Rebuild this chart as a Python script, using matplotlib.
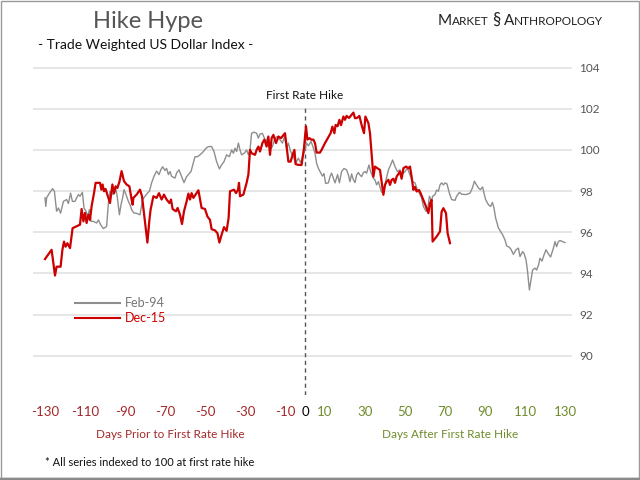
import matplotlib
matplotlib.use("Agg")
import matplotlib.pyplot as plt
from matplotlib.lines import Line2D
from matplotlib.patches import Rectangle

plt.rcParams['font.family'] = ['Lato', 'DejaVu Sans']

# Feb-94 cycle (days relative to first hike, index = 100 at hike)
feb94_days = [-130, -129.6, -129.2, -127.8, -126.2, -125.3, -124.2, -123.3, -122.2, -120.8,
              -119.2, -118.3, -117.2, -116.3, -115, -114.2, -113.3, -112.5, -111.3, -110.5,
              -109.5, -108.7, -107.8, -107, -105.8, -104.2, -103.3, -102.2, -100.8, -99.2,
              -98.3, -97.5, -95.8, -94.5, -93.8, -92.8, -92, -91.2, -90.5, -89.5,
              -88.3, -87.5, -86.7, -85.5, -84.5, -83.8, -82.5, -81.2, -80, -78.8,
              -77.8, -76.7, -75.5, -74.2, -73, -72, -71.2, -70, -69.2, -68.3,
              -67.5, -66.7, -65, -64.2, -63, -61.7, -60.5, -59.2, -58.3, -57,
              -55, -53.8, -52.5, -50.8, -49.5, -48.3, -46.7, -45.5, -44.2, -42.8,
              -41.7, -40.5, -39.2, -37.8, -36.7, -35.8, -35, -34.2, -33.3, -32.5,
              -31.7, -30.3, -29.2, -28.3, -27.5, -26.7, -25.5, -24.2, -23.3, -22.5,
              -21.3, -20.3, -19.5, -18.7, -17.5, -16.3, -15, -13.8, -12.5, -11.3,
              -10.2, -9.2, -8.3, -7.2, -5.8, -4.7, -3.3, -2.2, -1.2, 0,
              0.8, 1.7, 3, 3.8, 5, 5.8, 6.7, 7.8, 8.7, 9.5,
              10.3, 11.7, 12.5, 13.3, 14.2, 15, 16.3, 17.2, 18.3, 19.5,
              20.8, 21.7, 22.5, 23.3, 24.2, 25, 25.8, 26.7, 27.5, 28.3,
              29.2, 30, 30.8, 32, 32.8, 34.2, 35, 35.8, 36.7, 37.5,
              38.3, 39.5, 40.5, 41.7, 42.8, 43.8, 45, 46.2, 47.5, 48.3,
              50, 51.2, 52.5, 53.8, 55, 56.2, 57.2, 58.3, 59.2, 60.5,
              61.3, 62.2, 63.3, 63.8, 65, 65.8, 66.7, 67.5, 68.3, 69.2,
              70, 71, 72.2, 73.3, 75, 75.8, 77.2, 78.3, 80.5, 82.5,
              83.7, 84.7, 85.8, 86.7, 87.7, 88.8, 89.5, 90.3, 91.7, 92.8,
              93.7, 94.5, 95.3, 96.7, 97.8, 98.8, 100, 100.8, 102.2, 103,
              104.2, 105.5, 106.7, 107.5, 108.8, 109.5, 110.5, 111.2, 112.2, 113,
              113.8, 115, 115.8, 116.8, 117.5, 118.5, 119.5, 120.5, 121.7, 122.8,
              124.2, 125, 125.8, 126.7, 127.5, 128.8, 130]
feb94_vals = [97.67, 97.26, 97.67, 97.9, 98.12, 97.99, 97.02, 97.18, 96.93, 97.5,
              97.59, 97.4, 97.9, 97.5, 97.5, 97.67, 97.83, 97.75, 97.94, 97.18,
              97.02, 96.77, 97.1, 96.53, 96.53, 96.45, 96.6, 96.37, 96.18, 96.28,
              97.42, 97.99, 97.83, 98.07, 97.67, 96.85, 97.34, 97.67, 98.07, 97.83,
              97.5, 97.34, 97.1, 96.93, 96.93, 96.9, 96.85, 97.59, 97.75, 97.9,
              97.99, 98.4, 98.72, 98.97, 98.8, 99.05, 99.18, 99.0, 99.1, 98.8,
              98.95, 98.72, 98.63, 98.88, 99.03, 98.7, 98.41, 98.7, 98.8, 98.95,
              99.67, 99.67, 99.76, 99.92, 100.08, 100.16, 100.16, 99.92, 99.43, 99.08,
              99.27, 99.43, 99.76, 99.67, 100.0, 99.84, 100.08, 99.92, 100.33, 100.0,
              99.76, 99.84, 100.0, 99.76, 100.0, 100.81, 100.86, 100.81, 100.57, 100.77,
              100.8, 100.57, 100.33, 100.6, 100.0, 100.16, 100.57, 100.65, 100.49, 100.33,
              100.65, 100.08, 100.33, 99.92, 99.67, 99.35, 99.6, 99.38, 99.67, 100.0,
              100.33, 100.2, 100.41, 100.2, 99.84, 99.35, 99.1, 98.9, 98.73, 98.85,
              98.37, 98.4, 98.7, 98.87, 98.62, 98.4, 98.8, 98.4, 98.95, 99.1,
              99.03, 98.78, 98.46, 98.83, 98.55, 98.41, 98.78, 98.9, 98.78, 98.7,
              98.9, 98.95, 98.87, 99.27, 98.95, 98.62, 98.54, 98.3, 98.46, 98.2,
              97.94, 98.05, 98.54, 99.03, 99.27, 99.51, 99.19, 98.95, 99.03, 98.78,
              98.95, 99.11, 98.78, 98.46, 98.4, 98.06, 97.9, 97.67, 97.25, 97.02,
              97.1, 97.75, 97.5, 97.75, 97.83, 98.05, 97.99, 98.3, 98.4, 98.3,
              98.4, 98.35, 97.9, 97.59, 97.55, 97.75, 97.94, 97.85, 97.83, 97.9,
              98.15, 98.48, 98.3, 98.15, 98.07, 98.2, 97.9, 97.59, 97.34, 97.25,
              97.45, 97.18, 96.7, 96.21, 96.04, 95.88, 95.63, 95.34, 95.27, 95.17,
              94.93, 95.15, 95.23, 94.82, 95.06, 94.98, 94.66, 94.17, 93.2, 93.68,
              94.17, 94.26, 94.17, 94.42, 94.74, 94.6, 94.9, 95.15, 94.95, 94.8,
              95.23, 95.55, 95.3, 95.55, 95.6, 95.55, 95.5]

# Dec-15 cycle
dec15_days = [-130, -126.7, -125, -124.2, -122.2, -121.3, -120.5, -119.7, -118.8, -117.5,
              -116.2, -112.5, -111.7, -110.8, -110, -109.2, -108.3, -107.5, -106.7, -105.5,
              -104.7, -102.5, -101.8, -101.2, -100.5, -99.7, -98.3, -97.5, -96.3, -95.5,
              -94.7, -93.8, -92.8, -91.7, -90.5, -89.2, -87.8, -86.7, -86.2, -85.8,
              -84.2, -82.5, -81.5, -80.3, -78.8, -77.8, -77.2, -75.8, -74.2, -73,
              -71.7, -70.5, -69.2, -67.8, -67, -66.2, -64.5, -63.7, -62.5, -61.5,
              -60.5, -59.2, -58.3, -57.5, -56.7, -55.8, -54.7, -53.3, -51.7, -50,
              -48.8, -47.5, -46.7, -45, -43.8, -42.8, -41.7, -40.5, -39.2, -38.2,
              -37.5, -35.5, -34.5, -33.5, -33, -32.5, -30.8, -29.2, -28.3, -27.5,
              -26.7, -25, -24.2, -23.3, -22.5, -21.3, -20.3, -19.2, -18.3, -17.5,
              -16.7, -15.8, -14.5, -13.3, -12, -10, -9.2, -8.3, -7.2, -6.2,
              -5.3, -4.7, -3.3, -1.7, -0.5, 0.5, 1.2, 2.2, 3.3, 4.2,
              5, 5.8, 7.5, 8.3, 10, 11.7, 12.8, 13.7, 14.7, 15.3,
              16.3, 17.2, 18, 19.2, 20, 20.8, 22, 23.3, 24.2, 25,
              26, 27.2, 28.3, 29.5, 30.2, 31.7, 32.5, 33.3, 34.2, 35,
              36.3, 37.5, 38.2, 39.2, 40, 40.8, 41.7, 42.5, 43.3, 44.2,
              45, 45.8, 47.5, 48.3, 49.2, 50.5, 51.7, 52.5, 53.3, 54.2,
              55, 55.8, 57, 57.8, 59.2, 60.5, 61.7, 62.5, 63.3, 63.8,
              65.8, 67.5, 68.3, 69.2, 70.5, 71.3, 72.5]
dec15_vals = [94.7, 95.15, 93.9, 94.33, 94.33, 95.15, 95.55, 95.3, 95.47, 95.23,
              96.2, 96.37, 97.13, 96.53, 96.94, 96.45, 96.85, 96.6, 97.26, 97.9,
              98.4, 98.4, 98.07, 98.32, 97.99, 98.1, 97.67, 97.42, 98.32, 97.9,
              98.23, 98.15, 98.45, 98.97, 98.48, 98.32, 98.23, 97.59, 97.34, 97.67,
              97.83, 98.07, 97.75, 96.77, 95.5, 96.6, 97.1, 97.75, 97.67, 97.9,
              97.59, 97.83, 97.59, 97.42, 97.59, 97.13, 97.02, 97.18, 96.85, 96.4,
              97.02, 97.5, 97.88, 97.59, 97.9, 97.67, 97.83, 98.04, 97.18, 97.13,
              96.77, 96.6, 96.15, 96.09, 95.96, 95.5, 95.88, 96.25, 96.07, 96.69,
              97.99, 98.07, 97.9, 98.07, 98.4, 97.75, 97.83, 98.4, 98.8, 100.0,
              99.84, 99.76, 100.0, 100.16, 99.92, 100.33, 100.5, 100.16, 100.65, 99.76,
              100.57, 100.73, 100.33, 100.65, 100.57, 100.81, 100.16, 99.43, 99.43, 99.76,
              100.0, 99.31, 99.27, 99.27, 100.1, 101.15, 100.5, 100.57, 100.49, 100.5,
              100.33, 99.87, 99.87, 100.0, 100.33, 100.62, 100.81, 101.13, 100.81, 101.21,
              101.15, 101.46, 101.2, 101.62, 101.46, 101.65, 101.55, 101.7, 101.81, 101.54,
              101.55, 101.65, 101.21, 100.81, 101.62, 101.3, 100.81, 99.84, 98.7, 99.19,
              99.1, 99.03, 98.54, 97.82, 98.3, 98.46, 98.55, 98.3, 98.54, 98.6,
              98.4, 98.7, 98.95, 98.6, 99.11, 99.19, 99.11, 99.19, 98.7, 98.06,
              98.2, 97.98, 98.05, 97.9, 97.57, 97.25, 96.93, 97.41, 97.57, 95.55,
              95.79, 96.04, 97.0, 97.17, 96.93, 95.96, 95.47]

x_ticks = [-130, -110, -90, -70, -50, -30, -10, 0, 10, 30, 50, 70, 90, 110, 130]
y_ticks = [90, 92, 94, 96, 98, 100, 102, 104]

RED_TXT = '#a3282a'
GREEN_TXT = '#6f8c2d'

W, H = 640, 480
fig = plt.figure(figsize=(6.4, 4.8), dpi=100)
fig.patch.set_facecolor('white')


def fx(px):
    return px / W


def fy(py):
    return 1 - py / H


ax = fig.add_axes([fx(33), fy(395), fx(572) - fx(33), fy(64) - fy(395)])
ax.set_xlim(-136, 133.5)
ax.set_ylim(88.1, 104.17)

for yv in y_ticks:
    ax.axhline(yv, color='#e6e6e6', lw=1.4, zorder=0)

ax.plot(feb94_days, feb94_vals, color='#8e8e8e', lw=1.0, label='Feb-94', zorder=2)
ax.plot(dec15_days, dec15_vals, color='#cc0000', lw=1.6, label='Dec-15', zorder=3)

# first hike marker
ax.plot([0, 0], [88.1, 102.2], color='#555555', lw=1.0, ls=(0, (3, 2.5)), zorder=1)
ax.text(0, 102.35, 'First Rate Hike', ha='center', va='bottom', fontsize=8.5, color='#111111')

for s in ax.spines.values():
    s.set_visible(False)

ax.yaxis.tick_right()
ax.set_yticks(y_ticks)
ax.tick_params(axis='y', length=0, pad=5, labelsize=8.5, labelcolor='#555555')
ax.set_xticks(x_ticks)
ax.set_xticklabels([str(t) for t in x_ticks])
ax.tick_params(axis='x', length=0, pad=8, labelsize=9.5)
for lbl, t in zip(ax.get_xticklabels(), x_ticks):
    if t < 0:
        lbl.set_color(RED_TXT)
    elif t == 0:
        lbl.set_color('black')
    else:
        lbl.set_color(GREEN_TXT)

legend_lines = [Line2D([], [], color='#8e8e8e', lw=1.5), Line2D([], [], color='#cc0000', lw=1.5)]
leg = ax.legend(legend_lines, ['Feb-94', 'Dec-15'], loc='upper left',
                bbox_to_anchor=(fx(64), fy(286)), bbox_transform=fig.transFigure,
                frameon=False, handlelength=3.6, handletextpad=0.4, labelspacing=0.25,
                fontsize=9)
leg.get_texts()[0].set_color('#777777')
leg.get_texts()[1].set_color('#cc0000')

fig.text(fx(170), fy(435), 'Days Prior to First Rate Hike', ha='center', va='center',
         fontsize=8.5, color=RED_TXT)
fig.text(fx(450), fy(435), 'Days After First Rate Hike', ha='center', va='center',
         fontsize=8.5, color=GREEN_TXT)
fig.text(fx(45), fy(463), '* All series indexed to 100 at first rate hike', ha='left', va='center',
         fontsize=8, color='#111111')

# titles
fig.text(fx(148), fy(21), 'Hike Hype', ha='center', va='center', fontsize=17, color='#555555')
fig.text(fx(146), fy(45), '- Trade Weighted US Dollar Index -', ha='center', va='center',
         fontsize=10, color='#111111')

# logo in small caps, pieces placed one after another
renderer = fig.canvas.get_renderer()
xpos = 438
for piece, size in [('M', 11), ('ARKET', 8.5), (' ', 8.5), ('§', 12), (' ', 8.5),
                    ('A', 11), ('NTHROPOLOGY', 8.5)]:
    t = fig.text(fx(xpos), fy(25), piece, ha='left', va='baseline', fontsize=size,
                 color='#222222')
    bb = t.get_window_extent(renderer)
    xpos = bb.x1 if piece.strip() else xpos + size * 0.4

# frame around the picture
fig.add_artist(Rectangle((0.001, 0.004), 0.997, 0.994, transform=fig.transFigure,
                         fill=False, edgecolor='#9a9a9a', lw=1.0))
fig.add_artist(Line2D([0, 1], [0.003, 0.003], transform=fig.transFigure, color='#8a8a8a', lw=2.5))

fig.savefig('out.png', dpi=100)
